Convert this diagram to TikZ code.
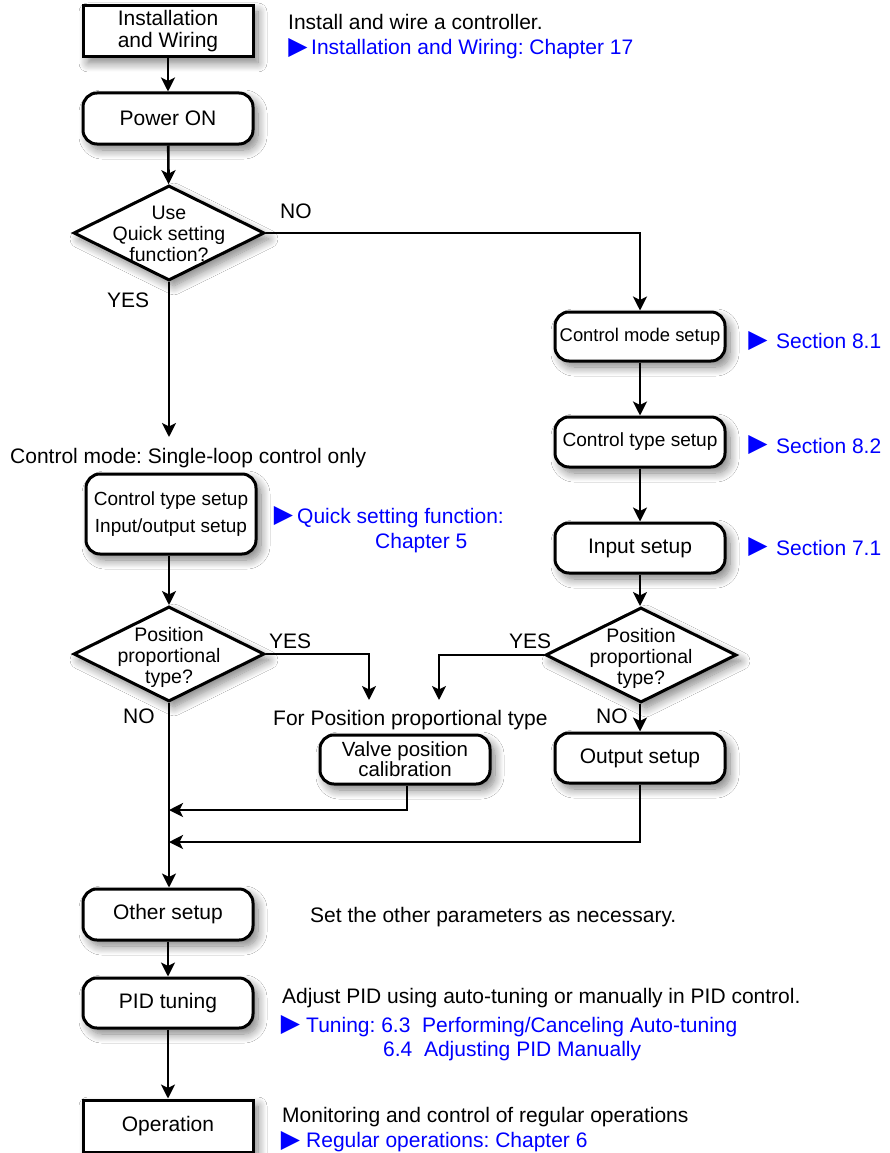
\documentclass[tikz,border=0pt]{standalone}
\usepackage{fontspec}
\setmainfont{Liberation Sans}
\newfontfamily\symfont{DejaVu Sans}
\usetikzlibrary{arrows.meta,shapes.geometric,shadows.blur}
\definecolor{linkblue}{RGB}{0,0,255}
\frenchspacing
\begin{document}
\begin{tikzpicture}[x=1pt,y=-1pt,
  every node/.style={inner sep=0pt, font=\fontsize{21}{22}\selectfont},
  sh/.style={blur shadow={shadow xshift=5pt,shadow yshift=-6pt,shadow blur steps=12,shadow blur radius=9pt,shadow opacity=50}},
  boxsq/.style={draw, line width=3pt, fill=white, minimum width=170pt, minimum height=51pt, sh, align=center},
  boxrd/.style={boxsq, rounded corners=14pt},
  dia/.style={draw, diamond, line width=3pt, fill=white, minimum width=191pt, minimum height=95pt, sh},
  diatext/.style={align=center, font=\fontsize{19.5}{21}\selectfont},
  conn/.style={line width=2.6pt, -{Stealth[length=14pt,width=14pt,inset=3.5pt]}},
  tri/.style={text=linkblue, font=\symfont\fontsize{25}{25}\selectfont},
  link/.style={text=linkblue, anchor=base west},
  note/.style={anchor=base west},
]
\fill[white] (0,0) rectangle (889,1153);
\useasboundingbox (0,0) rectangle (889,1153);

% left column
\node[boxsq] (inst) at (168,31.5) {Installation\\and Wiring};
\node[boxrd] (pwr) at (168,118.5) {Power ON};
\node[dia] (q1) at (169,233) {};
\node[diatext] (q1t) at (169,234) {Use\\Quick setting\\function?};
\node[note] (cmtext) at (10,463) {Control mode: Single-loop control only};
\coordinate (yesend) at (169,437);
\node[boxrd, minimum height=80pt, font=\fontsize{19}{27}\selectfont] (qs) at (171,514) {Control type setup\\Input/output setup};
\node[dia] (q2) at (169,654) {};
\node[diatext] (q2t) at (169,657) {Position\\proportional\\type?};
\node[boxrd, minimum height=49pt, font=\fontsize{20.5}{20}\selectfont] (valve) at (405,759.5) {Valve position\\calibration};
\node[boxrd] (other) at (168,914.5) {Other setup};
\node[boxrd, minimum height=50pt] (pid) at (168,1003) {PID tuning};
\node[boxsq, minimum height=52pt] (oper) at (168,1126) {Operation};

% right column
\node[boxrd, minimum height=49pt, font=\fontsize{18.4}{20}\selectfont] (cms) at (640,336.5) {Control mode setup};
\node[boxrd, minimum height=50pt, font=\fontsize{19.1}{20}\selectfont] (cts) at (640,442) {Control type setup};
\node[boxrd, minimum height=50pt] (ins) at (640,548) {Input setup};
\node[dia] (q3) at (641,655) {};
\node[diatext] (q3t) at (641,658) {Position\\proportional\\type?};
\node[boxrd, minimum height=50pt] (out) at (640,758) {Output setup};

% connectors
\coordinate (ppl) at (369,700);
\coordinate (ppr) at (439,700);
\coordinate (j1) at (169,810);
\coordinate (j2) at (169,842);
\draw[conn] (inst) -- (pwr);
\draw[conn] (pwr) -- (q1);
\draw[conn] (q1.east) -| (cms);
\draw[conn] (q1) -- (yesend);
\draw[conn] (qs.south -| q2) -- (q2);
\draw[conn] (q2.east) -| (ppl);
\draw[conn] (q3.west) -| (ppr);
\draw[conn] (q2) -- (other.north -| q2);
\draw[conn] (cms) -- (cts);
\draw[conn] (cts) -- (ins);
\draw[conn] (ins) -- (q3.north -| ins);
\draw[conn] (q3.south -| out) -- (out);
\draw[conn] ([xshift=2pt]valve.south) |- (j1);
\draw[conn] (out.south) |- (j2);
\draw[conn] (other) -- (pid);
\draw[conn] (pid) -- (oper);

% labels
\node[note] (no1) at (280,218) {NO};
\node[note] (yes1) at (107,307) {YES};
\node[note] (yes2) at (269,648) {YES};
\node[note] (no2) at (123,723) {NO};
\node[note] (yes3) at (509,648) {YES};
\node[note] (no3) at (596,723) {NO};
\node[note] (forpp) at (273,725) {For Position proportional type};

% notes and references
\node[note] (t1) at (288,30) {Install and wire a controller.};
\node[tri] (a1) at (298,48) {▶};
\node[link] (l1) at (311,55) {Installation and Wiring: Chapter 17};
\node[tri] (a2) at (283.5,515.5) {▶};
\node[link] (l2) at (297,523) {Quick setting function:};
\node[link] (l2b) at (375,548) {Chapter 5};
\node[tri] (a3) at (758,341.5) {▶};
\node[link] (s81) at (776,348) {Section 8.1};
\node[tri] (a4) at (758,445) {▶};
\node[link] (s82) at (776,453) {Section 8.2};
\node[tri] (a5) at (758,547) {▶};
\node[link] (s71) at (776,555) {Section 7.1};
\node[note] (t2) at (310,922) {Set the other parameters as necessary.};
\node[note] (t3) at (282,1003) {Adjust PID using auto-tuning or manually in PID control.};
\node[tri] (a6) at (290.5,1024.5) {▶};
\node[link] (l3) at (306,1032) {Tuning: 6.3\ \ Performing/Canceling Auto-tuning};
\node[link] (l4) at (383,1056) {6.4\ \ Adjusting PID Manually};
\node[note] (t4) at (282,1122) {Monitoring and control of regular operations};
\node[tri] (a7) at (290.5,1141) {▶};
\node[link] (l5) at (306,1147) {Regular operations: Chapter 6};
\end{tikzpicture}
\end{document}
